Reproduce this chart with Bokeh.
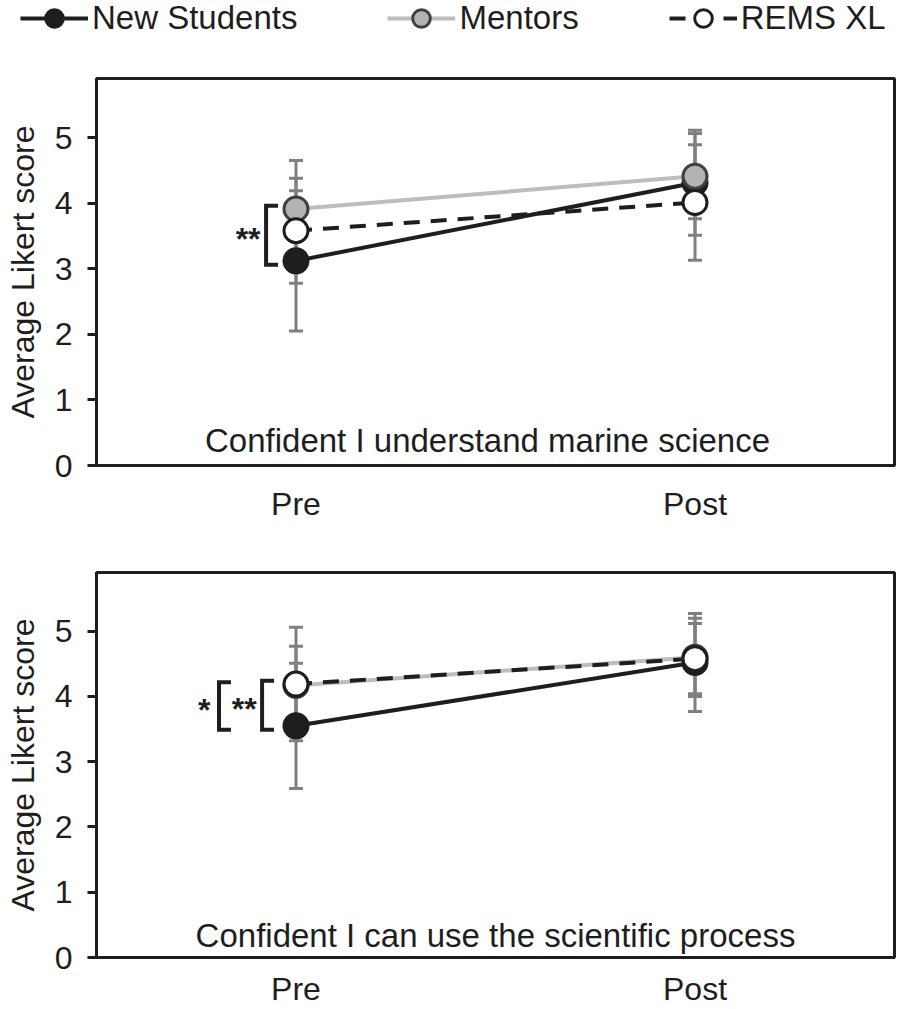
from bokeh.plotting import figure
from bokeh.models import (Range1d, FixedTicker, Whisker, TeeHead, ColumnDataSource,
                          Label, Legend, LegendItem)
from bokeh.layouts import column
from bokeh.embed import file_html
from bokeh.resources import INLINE

# ---------------- data ----------------
phases = ["Pre", "Post"]
groups = ["New Students", "Mentors", "REMS XL"]
y_ticks = [0, 1, 2, 3, 4, 5]
y_label = "Average Likert score"

marine_caption = "Confident I understand marine science"
marine_new = [3.12, 4.31]
marine_new_sd = [1.07, 0.80]
marine_mentors = [3.91, 4.41]
marine_mentors_sd = [0.74, 0.65]
marine_rems = [3.58, 4.01]
marine_rems_sd = [0.80, 0.88]

process_caption = "Confident I can use the scientific process"
process_new = [3.55, 4.52]
process_new_sd = [0.96, 0.75]
process_mentors = [4.17, 4.60]
process_mentors_sd = [0.60, 0.60]
process_rems = [4.19, 4.58]
process_rems_sd = [0.87, 0.54]

# significance brackets at "Pre": (group a, group b, stars)
marine_sig = [("New Students", "Mentors", "**")]
process_sig = [("New Students", "REMS XL", "**"), ("New Students", "Mentors", "*")]

# ---------------- styles ----------------
FONT = "Liberation Sans"
INK = "#1e1e1e"
ERR = "#808080"
STYLE = {
    "New Students": dict(line="#1e1e1e", dash="solid", fill="#1e1e1e", edge="#1e1e1e"),
    "Mentors": dict(line="#bdbdbd", dash="solid", fill="#b3b3b3", edge="#404040"),
    "REMS XL": dict(line="#1e1e1e", dash="16 11", fill="white", edge="#1e1e1e"),
}
# bracket layout (x offsets from the "Pre" position, data units): line, tip, star
BRACKET_POS = [(-0.075, -0.045, -0.12)]
BRACKET_POS_2 = [(-0.085, -0.055, -0.13), (-0.193, -0.163, -0.23)]

W = 898
LEFT = 96
RIGHT = 4


def style_series(p, srcs):
    lines, marks = {}, {}
    for g in groups:
        st = STYLE[g]
        lines[g] = p.line("x", "y", source=srcs[g], line_color=st["line"],
                          line_width=4, line_dash=st["dash"])
    for g in groups:
        st = STYLE[g]
        marks[g] = p.scatter("x", "y", source=srcs[g], size=24,
                             fill_color=st["fill"], line_color=st["edge"],
                             line_width=3)
    return lines, marks


def make_sources(means, sds):
    pos = [i + 1 for i in range(len(phases))]
    srcs = {}
    for g in groups:
        m, s = means[g], sds[g]
        srcs[g] = ColumnDataSource(dict(
            x=pos, y=m,
            upper=[a + b for a, b in zip(m, s)],
            lower=[a - b for a, b in zip(m, s)]))
    return srcs


def make_panel(caption, means, sds, sig, bracket_pos, height, border_top,
               border_bottom, x_standoff, caption_x, caption_y):
    pos = [i + 1 for i in range(len(phases))]
    p = figure(width=W, height=height,
               x_range=Range1d(0.5, len(phases) + 0.5), y_range=Range1d(0, 5.9),
               output_backend="svg", toolbar_location=None,
               min_border_left=LEFT, min_border_right=RIGHT,
               min_border_top=border_top, min_border_bottom=border_bottom)
    p.background_fill_color = "white"
    p.border_fill_color = "white"
    p.outline_line_color = INK
    p.outline_line_width = 3
    p.grid.visible = False

    yax = p.yaxis[0]
    yax.ticker = FixedTicker(ticks=y_ticks)
    yax.axis_label = y_label
    yax.axis_label_text_font = FONT
    yax.axis_label_text_font_size = "32px"
    yax.axis_label_text_font_style = "normal"
    yax.axis_label_text_color = INK
    yax.axis_label_standoff = 11
    yax.major_label_text_font = FONT
    yax.major_label_text_font_size = "32px"
    yax.major_label_text_color = INK
    yax.major_label_standoff = 15
    yax.major_tick_out = 9
    yax.major_tick_in = 0
    yax.minor_tick_out = 0
    yax.minor_tick_in = 0
    yax.major_tick_line_width = 3
    yax.major_tick_line_color = INK
    yax.axis_line_width = 3
    yax.axis_line_color = INK

    xax = p.xaxis[0]
    xax.ticker = FixedTicker(ticks=pos)
    xax.major_label_overrides = {q: name for q, name in zip(pos, phases)}
    xax.major_label_text_font = FONT
    xax.major_label_text_font_size = "32px"
    xax.major_label_text_color = INK
    xax.major_label_standoff = x_standoff
    xax.major_tick_out = 0
    xax.major_tick_in = 0
    xax.minor_tick_out = 0
    xax.minor_tick_in = 0
    xax.axis_line_width = 3
    xax.axis_line_color = INK

    srcs = make_sources(means, sds)
    for g in groups:
        p.add_layout(Whisker(
            source=srcs[g], base="x", upper="upper", lower="lower",
            dimension="height", level="underlay",
            line_color=ERR, line_width=3,
            upper_head=TeeHead(size=14, line_color=ERR, line_width=3),
            lower_head=TeeHead(size=14, line_color=ERR, line_width=3)))

    style_series(p, srcs)

    # significance brackets
    x0 = pos[0]
    for (a, b, stars), (dl, dt, ds) in zip(sig, bracket_pos):
        lo = min(means[a][0], means[b][0]) - 0.06
        hi = max(means[a][0], means[b][0]) + 0.05
        p.line([x0 + dt, x0 + dl, x0 + dl, x0 + dt], [hi, hi, lo, lo],
               line_color=INK, line_width=4, line_join="miter")
        p.add_layout(Label(x=x0 + ds, y=(lo + hi) / 2, text=stars,
                           text_font=FONT, text_font_size="32px",
                           text_font_style="bold", text_color=INK,
                           text_align="center", text_baseline="middle",
                           y_offset=-4))

    p.add_layout(Label(x=caption_x, y=caption_y, text=caption, text_font=FONT,
                       text_font_size="33px", text_color=INK,
                       text_align="center", text_baseline="middle"))
    return p


marine_means = {"New Students": marine_new, "Mentors": marine_mentors, "REMS XL": marine_rems}
marine_sds = {"New Students": marine_new_sd, "Mentors": marine_mentors_sd, "REMS XL": marine_rems_sd}
process_means = {"New Students": process_new, "Mentors": process_mentors, "REMS XL": process_rems}
process_sds = {"New Students": process_new_sd, "Mentors": process_mentors_sd, "REMS XL": process_rems_sd}

# ---------------- legend strip: its own root, so its frame spans the full width ----------------
LEG_H = 40
leg = figure(width=W, height=LEG_H, x_range=Range1d(0.5, len(phases) + 0.5),
             y_range=Range1d(100, 101), output_backend="svg", toolbar_location=None,
             min_border=0, min_border_left=0, min_border_right=0,
             min_border_top=0, min_border_bottom=0,
             x_axis_type=None, y_axis_type=None)
leg.outline_line_color = None
leg.background_fill_color = "white"
leg.border_fill_color = "white"
# the series sit outside the strip's y-range: only their legend keys are visible
leg_lines, leg_marks = style_series(leg, make_sources(marine_means, marine_sds))
legend = Legend(
    items=[LegendItem(label=g, renderers=[leg_lines[g], leg_marks[g]]) for g in groups],
    orientation="horizontal", location=(20, 0),
    glyph_width=68, glyph_height=44, label_standoff=4, spacing=90,
    padding=0, margin=0, border_line_alpha=0, background_fill_alpha=0,
    label_text_font=FONT, label_text_font_size="33px", label_text_color=INK,
    label_text_baseline="middle")
leg.add_layout(legend)

p1 = make_panel(marine_caption, marine_means, marine_sds, marine_sig, BRACKET_POS,
                height=496, border_top=38, border_bottom=71,
                x_standoff=20, caption_x=1.48, caption_y=0.38)

p2 = make_panel(process_caption, process_means, process_sds, process_sig, BRACKET_POS_2,
                height=473, border_top=36, border_bottom=50,
                x_standoff=13, caption_x=1.5, caption_y=0.33)

panels = column(p1, p2, spacing=0)
open("out.html", "w").write(file_html([leg, panels], INLINE))
